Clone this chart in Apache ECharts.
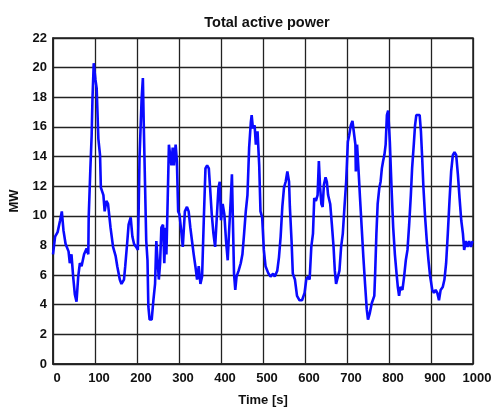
<!DOCTYPE html>
<html>
<head>
<meta charset="utf-8">
<script src="https://cdn.jsdelivr.net/npm/echarts@6/dist/echarts.min.js"></script>
<style>
  html, body { margin: 0; padding: 0; background: #fff; }
  #chart { width: 496px; height: 412px; }
</style>
</head>
<body>
<div id="chart"></div>
<script>
// time [s] and total active power [MW]
var timeS = [
  0, 5, 11, 17, 21, 25, 30, 37, 40, 44, 48, 52, 56, 60, 64, 68, 74, 80, 84, 85,
  89, 92, 94, 97, 101, 104, 108, 112, 114, 120, 123, 127, 131, 137, 143, 149, 153, 159, 163, 169,
  172, 177, 180, 185, 189, 193, 198, 202, 204, 206, 211, 214, 216, 219, 222, 225, 227, 230, 235, 239,
  243, 246, 249, 252, 255, 258, 262, 265, 268, 270, 273, 276, 279, 282, 285, 288, 292, 295, 298, 301,
  306, 309, 314, 319, 323, 327, 331, 335, 339, 343, 347, 351, 355, 359, 363, 367, 371, 374, 378, 382,
  386, 390, 394, 397, 400, 404, 408, 412, 416, 419, 423, 426, 429, 431, 434, 437, 442, 447, 451, 455,
  459, 463, 467, 471, 473, 476, 480, 483, 487, 491, 494, 498, 502, 506, 513, 518, 524, 528, 534, 538,
  542, 546, 550, 554, 558, 562, 564, 568, 571, 576, 581, 587, 593, 599, 603, 607, 611, 615, 619, 622,
  626, 630, 633, 636, 639, 642, 645, 649, 652, 655, 660, 664, 668, 671, 674, 678, 682, 686, 690, 694,
  698, 702, 705, 709, 713, 717, 720, 721, 724, 728, 731, 735, 739, 743, 747, 750, 754, 759, 765, 767,
  770, 773, 777, 780, 783, 786, 789, 792, 795, 798, 802, 806, 810, 814, 818, 821, 824, 827, 832, 836,
  840, 844, 848, 852, 855, 859, 862, 865, 869, 873, 876, 879, 882, 886, 890, 894, 898, 903, 907, 911,
  915, 919, 923, 928, 932, 936, 940, 944, 948, 952, 956, 960, 964, 968, 972, 976, 979, 983, 987, 991,
  995, 999
];
var powerMW = [
  7.4, 8.6, 8.9, 9.7, 10.3, 9.0, 8.1, 7.6, 6.8, 7.4, 5.9, 4.7, 4.2, 5.9, 6.8, 6.6, 7.4, 7.8, 7.4, 9.9,
  13.2, 15.4, 17.9, 20.3, 19.2, 18.6, 15.2, 14.1, 11.9, 11.4, 10.3, 11.0, 10.8, 9.2, 7.9, 7.3, 6.6, 5.7, 5.4, 5.7,
  6.6, 8.3, 9.4, 9.9, 8.6, 8.1, 7.9, 7.7, 10.5, 13.9, 17.9, 19.3, 16.3, 12.3, 8.3, 7.0, 3.9, 3.0, 3.0, 4.3,
  5.4, 8.3, 7.0, 5.7, 6.8, 9.2, 9.4, 6.8, 9.2, 7.4, 11.0, 14.8, 14.8, 13.4, 14.6, 13.4, 14.8, 13.7, 10.3, 10.1,
  8.8, 7.9, 10.3, 10.6, 10.3, 9.2, 8.3, 7.4, 6.6, 5.7, 6.6, 5.4, 5.9, 9.7, 13.2, 13.4, 13.2, 11.9, 10.1, 8.8,
  7.9, 9.9, 11.9, 12.3, 9.7, 10.8, 10.1, 8.3, 7.0, 8.8, 11.0, 12.8, 8.8, 6.1, 5.0, 5.9, 6.3, 6.8, 7.4, 8.8,
  10.3, 11.4, 14.6, 16.3, 16.8, 15.9, 16.1, 14.8, 15.7, 13.4, 10.3, 9.9, 7.7, 6.6, 6.1, 5.9, 6.1, 5.9, 6.3, 7.2,
  8.6, 10.6, 11.9, 12.3, 13.0, 12.3, 10.6, 8.3, 6.1, 5.7, 4.6, 4.3, 4.3, 4.8, 5.7, 5.9, 5.7, 7.9, 8.8, 11.2,
  11.0, 11.4, 13.7, 11.9, 10.8, 10.6, 12.1, 12.6, 12.3, 11.4, 10.8, 9.4, 7.9, 6.3, 5.4, 5.4, 6.3, 7.9, 8.8, 10.6,
  12.3, 15.0, 15.4, 16.1, 16.4, 16.3, 14.8, 13.0, 14.8, 12.8, 11.2, 9.2, 7.2, 5.4, 3.7, 3.0, 3.4, 4.1, 4.6, 6.1,
  8.8, 10.8, 11.9, 12.3, 13.2, 13.7, 14.1, 14.8, 16.8, 17.1, 15.0, 11.9, 9.2, 7.4, 6.1, 5.2, 4.6, 5.2, 5.0, 5.9,
  7.0, 7.7, 9.4, 11.4, 13.2, 14.8, 16.1, 16.8, 16.9, 16.8, 15.7, 13.9, 11.9, 9.9, 8.3, 7.0, 5.9, 5.0, 4.8, 5.0,
  4.8, 4.3, 5.0, 5.2, 5.7, 6.8, 8.8, 11.0, 13.0, 14.1, 14.3, 14.1, 12.8, 11.2, 9.7, 8.8, 7.7, 8.3, 7.9, 8.3,
  7.9, 8.3
];

var chart = echarts.init(document.getElementById('chart'))
var seriesData = timeS.map(function (t, i) {
  return [t, powerMW[i]]
})
var labelFont = { color: '#111', fontFamily: 'Liberation Sans', fontWeight: 'bold', fontSize: 13 }
var gridLine = { show: true, lineStyle: { color: '#222', width: 1.3 } }

var option = {
  animation: false,
  title: {
    text: 'Total active power',
    left: 262,
    top: 10,
    textAlign: 'center',
    textStyle: { color: '#111', fontFamily: 'Liberation Sans', fontWeight: 'bold', fontSize: 14.5 },
  },
  grid: {
    left: 51,
    right: 23,
    top: 38,
    bottom: 45,
    show: true,
    borderColor: '#222',
    borderWidth: 1.5,
  },
  xAxis: {
    type: 'value',
    min: 0,
    max: 1000,
    interval: 100,
    name: 'Time [s]',
    nameLocation: 'middle',
    nameGap: 30,
    nameTextStyle: labelFont,
    axisLine: { show: true, lineStyle: { color: '#222', width: 1.5 } },
    axisTick: { show: false },
    axisLabel: Object.assign({
      margin: 8,
      padding: [0, 0, 0, 8],
      formatter: function (v) {
        return String(v)
      },
    }, labelFont),
    splitLine: gridLine,
  },
  yAxis: {
    type: 'value',
    min: 0,
    max: 22,
    interval: 2,
    name: 'MW',
    nameLocation: 'middle',
    nameGap: 32,
    nameTextStyle: labelFont,
    axisLine: { show: true, lineStyle: { color: '#222', width: 1.5 } },
    axisTick: { show: false },
    axisLabel: Object.assign({ margin: 6 }, labelFont),
    splitLine: gridLine,
  },
  series: [
    {
      type: 'line',
      data: seriesData,
      showSymbol: false,
      lineStyle: { color: '#0a0aff', width: 2.6 },
      z: 3,
    },
  ],
}
option && chart.setOption(option)
</script>
</body>
</html>
